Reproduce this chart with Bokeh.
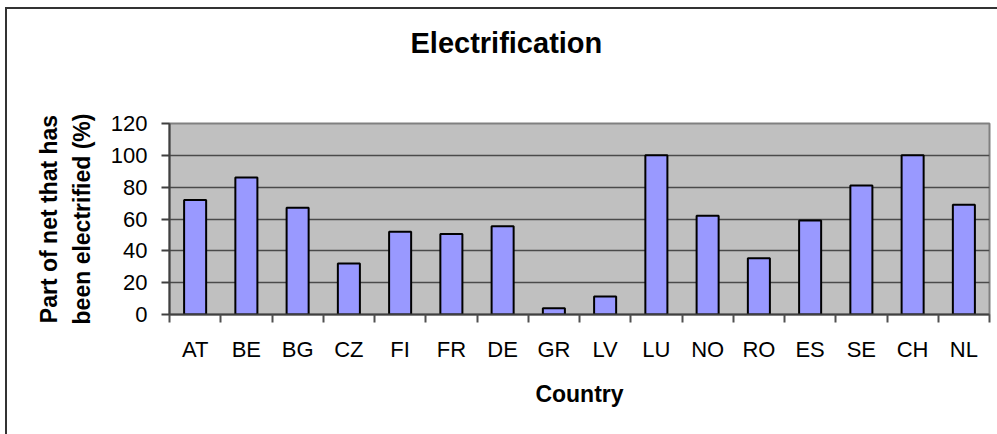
from bokeh.plotting import figure
from bokeh.models import (LinearAxis, CategoricalAxis, Range1d, FixedTicker,
                          FactorRange, ColumnDataSource, Title)
from bokeh.embed import file_html
from bokeh.resources import INLINE

countries = ["AT", "BE", "BG", "CZ", "FI", "FR", "DE", "GR", "LV", "LU",
             "NO", "RO", "ES", "SE", "CH", "NL"]
electrified = [72, 86, 67, 32, 52, 50.5, 55.5, 4, 11.3, 100,
               62, 35.4, 59, 81, 100, 69]
y_ticks = [0, 20, 40, 60, 80, 100, 120]

title_text = "Electrification"
x_label = "Country"
y_label = "Part of net that has\nbeen electrified (%)"

FONT = "Liberation Sans"

p = figure(x_range=FactorRange(*countries, range_padding=0),
           y_range=Range1d(0, 120),
           frame_width=820, frame_height=191,
           min_border_left=162, min_border_right=8,
           min_border_top=114, min_border_bottom=120,
           output_backend="svg", toolbar_location=None,
           title_location=None,
           x_axis_location=None, y_axis_location=None,
           background_fill_color="#C0C0C0", border_fill_color="white")

# outer chart-area border (left and top edges visible in the reference)
p.styles = {"margin-left": "5px", "margin-top": "7px",
            "border-left": "2px solid #333333", "border-top": "2px solid #333333"}

p.outline_line_color = "#808080"
p.outline_line_width = 2

src = ColumnDataSource(dict(country=countries, value=electrified))
p.vbar(x="country", top="value", width=0.43, source=src,
       fill_color="#9999FF", line_color="black", line_width=2)

# invisible spacer between plot area and title (nearest the frame)
spacer = LinearAxis(ticker=FixedTicker(ticks=[0]))
spacer.axis_line_color = None
spacer.major_tick_line_color = None
spacer.minor_tick_line_color = None
spacer.major_tick_out = 60
spacer.major_tick_in = 0
spacer.minor_tick_out = 0
spacer.major_label_standoff = 0
spacer.major_label_text_font_size = "1px"
spacer.major_label_text_color = None
p.add_layout(spacer, "above")

# title (outside the spacer)
ttl = Title(text=title_text, align="left", offset=241, standoff=10,
            text_font=FONT, text_font_style="bold", text_font_size="29px",
            text_color="black")
p.add_layout(ttl, "above")

# grid
p.xgrid.visible = False
p.ygrid.ticker = FixedTicker(ticks=y_ticks)
p.ygrid.grid_line_color = "#4a4a4a"
p.ygrid.grid_line_width = 1.5

# y axis
yax = LinearAxis(ticker=FixedTicker(ticks=y_ticks))
yax.axis_label = y_label
yax.axis_label_text_font = FONT
yax.axis_label_text_font_style = "bold"
yax.axis_label_text_font_size = "23px"
yax.axis_label_text_color = "black"
yax.axis_label_text_line_height = 1.28
yax.axis_label_standoff = 13
yax.major_label_text_font = FONT
yax.major_label_text_font_size = "22px"
yax.major_label_text_color = "black"
yax.major_label_standoff = 14
yax.axis_line_color = "#404040"
yax.axis_line_width = 2
yax.major_tick_line_color = "#404040"
yax.major_tick_line_width = 2
yax.major_tick_out = 8
yax.major_tick_in = 0
yax.minor_tick_line_color = None
p.add_layout(yax, "left")

# x axis: tick marks between categories (category boundaries in synthetic coords)
tax = LinearAxis(ticker=FixedTicker(ticks=list(range(len(countries) + 1))))
tax.major_label_text_font_size = "1px"
tax.major_label_text_color = None
tax.major_label_standoff = 0
tax.axis_line_color = "#404040"
tax.axis_line_width = 2
tax.major_tick_line_color = "#505050"
tax.major_tick_line_width = 2
tax.major_tick_out = 8
tax.major_tick_in = 0
tax.minor_tick_line_color = None
p.add_layout(tax, "below")

# x axis: category labels
cax = CategoricalAxis()
cax.axis_line_color = None
cax.major_tick_line_color = None
cax.major_tick_out = 0
cax.major_tick_in = 0
cax.major_label_text_font = FONT
cax.major_label_text_font_size = "22px"
cax.major_label_text_color = "black"
cax.major_label_standoff = 14
cax.axis_label = x_label
cax.axis_label_text_font = FONT
cax.axis_label_text_font_style = "bold"
cax.axis_label_text_font_size = "23px"
cax.axis_label_text_color = "black"
cax.axis_label_standoff = 16
p.add_layout(cax, "below")

open("out.html", "w").write(file_html(p, INLINE))
